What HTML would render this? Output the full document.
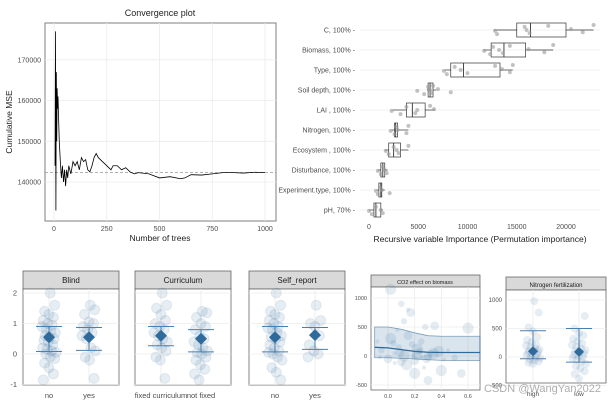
<!DOCTYPE html>
<html><head><meta charset="utf-8"><style>
body{margin:0;background:#fff;}
svg{display:block;font-family:"Liberation Sans",Arial,sans-serif;}
</style></head><body>
<svg id="s" width="611" height="402" viewBox="0 0 611 402"></svg>
<script>
// ---- Convergence data
const convTrees=[5,7,9,11,13,15,17,19,21,25,30,35,40,45,50,55,60,65,70,80,90,100,110,120,130,140,150,160,170,180,190,200,210,230,250,270,280,300,320,340,360,380,400,450,500,550,600,620,650,700,750,800,850,900,950,1000];
const convMSE=[144000,177000,133000,167000,150000,163000,158000,161000,157000,150000,145000,141000,144000,140000,143000,139000,143000,141000,144000,142000,145000,144000,145000,143000,146000,145000,145500,143000,142500,144000,146000,147000,146000,145000,144000,143000,144000,144000,143000,143500,142500,142000,142300,142000,141000,141300,140800,141000,141800,141700,142000,142300,142300,142200,142400,142300];
const convRef=142300;
const convXTicks=[0,250,500,750,1000];
const convYTicks=[140000,150000,160000,170000];
// ---- Importance data
const impVars=["C, 100%","Biomass, 100%","Type, 100%","Soil depth, 100%","LAI , 100%","Nitrogen, 100%","Ecosystem , 100%","Disturbance, 100%","Experiment.type, 100%","pH, 70%"];
const impMin=[12700,11600,7700,5900,2400,2300,1600,900,800,0];
const impQ1=[15000,12400,8300,6000,3800,2600,2000,1200,1000,500];
const impMed=[16400,13700,9600,6200,4400,2700,2500,1400,1200,700];
const impQ3=[20000,15900,13300,6500,5700,2900,3200,1600,1300,1200];
const impMax=[22800,18700,14600,6800,6700,4000,4000,1900,1600,1400];
const impPts=[[12800,13000,15800,16000,16300,18200,20500,21700,22800],[11700,12300,12600,13200,13600,14300,16200,17800,18700],[7600,7900,8700,9300,10000,12800,13500,14300,14600],[4900,5600,6000,6200,6300,6500,7000,8300],[2300,3200,3800,4900,4700,6200,6600],[2200,2600,2800,2900,3800,4000],[1700,2000,2500,2800,3000,4000],[900,1200,1400,1600,1800],[700,900,1100,1300,2100],[0,300,700,1200,1400]];
const impTicks=[0,5000,10000,15000,20000];
// ---- Facet panels data
const facetTitles=["Blind","Curriculum","Self_report"];
const facetCats=[["no","yes"],["fixed curriculum","not fixed"],["no","yes"]];
const facetMean=[[0.55,0.55],[0.6,0.5],[0.55,0.62]];
const facetLo=[[0.08,0.12],[0.27,0.07],[0.07,0.15]];
const facetHi=[[0.9,0.87],[0.9,0.8],[0.9,0.87]];
const facetPts=[
 [[2.0,1.6,1.4,1.3,1.2,1.1,1.0,0.95,0.9,0.8,0.75,0.7,0.6,0.55,0.5,0.45,0.4,0.3,0.2,0.15,0.1,0.05,0.0,-0.1,-0.15,-0.3,-0.45,-0.65,-0.85],[1.6,1.45,1.3,1.05,1.0,0.9,0.8,0.7,0.6,0.5,0.2,0.1,-0.1,-0.2,-0.8]],
 [[2.0,1.6,1.5,1.3,1.1,1.0,0.9,0.8,0.7,0.6,0.5,0.4,0.3,0.2,0.1,-0.1,-0.2,-0.8],[1.4,1.35,1.2,1.0,0.9,0.8,0.6,0.5,0.4,0.3,0.2,0.1,0.05,0.0,-0.1,-0.2,-0.35,-0.5,-0.65,-0.85]],
 [[2.0,1.6,1.4,1.3,1.2,1.1,1.0,0.9,0.85,0.8,0.7,0.6,0.55,0.5,0.4,0.3,0.2,0.1,0.05,0.0,-0.1,-0.2,-0.45,-0.6,-0.85],[1.6,1.1,1.0,0.9,0.6,0.3,0.1,0.0,-0.1]]];
const facetYTicks=[-1,0,1,2];
// CO2 panel
const co2X=[-0.1,0.0,0.1,0.2,0.3,0.4,0.5,0.6,0.7];
const co2Fit=[150,140,110,80,65,60,60,60,60];
const co2Up=[500,500,460,400,350,340,340,340,340];
const co2Lo=[-30,-30,-40,-50,-65,-75,-80,-80,-80];
const co2PtX=[-0.08,-0.05,0.0,0.02,0.05,0.08,0.1,0.12,0.15,0.18,0.2,0.22,0.25,0.28,0.3,0.02,0.07,0.12,0.17,0.22,0.27,0.32,0.35,0.4,0.45,0.5,0.55,0.6,-0.06,0.04,0.09,0.14,0.19,0.24,0.29,0.34,0.42,0.1,0.15,0.2,0.05,0.25,0.3,0.38];
const co2PtY=[250,100,-50,300,50,150,-100,0,800,200,-80,20,-30,500,-420,1150,450,600,750,120,-200,50,520,-250,100,-30,-300,480,-20,220,60,-150,10,90,-50,40,-60,900,350,-300,-120,250,-10,80];
const co2XTicks=[0.0,0.2,0.4,0.6];
const co2YTicks=[-500,0,500,1000];
// Nitrogen panel
const nCats=["high","low"];
const nMean=[100,90];
const nLo=[-30,-90];
const nHi=[460,500];
const nPts=[[980,780,520,450,350,300,260,220,200,180,150,130,110,100,90,80,60,50,30,10,0,-20,-40,-60,-80,-100,-120],[1180,720,500,420,380,320,280,240,210,180,150,120,100,80,60,40,20,0,-20,-50,-80,-120,-160,-200,-250,-300,-380]];
const nYTicks=[-500,0,500,1000];
</script>
<script>
const S=document.getElementById('s');const NS='http://www.w3.org/2000/svg';
function el(t,a,p){const e=document.createElementNS(NS,t);for(const k in a)e.setAttribute(k,a[k]);(p||S).appendChild(e);return e;}
function tx(x,y,s,o){o=o||{};const e=el('text',Object.assign({x:x,y:y,'font-size':o.fs||7,fill:o.fill||'#4d4d4d','text-anchor':o.a||'middle'},o.extra||{}),o.p);e.textContent=s;return e;}
function jit(j){return (((j*7919+13)%23)/22-0.5);}
const blue='#2f6a9a', eb='#4a80b0';
// ===== Convergence
let g=el('g',{});
const cx=v=>54+(v/1000)*211, cy=v=>182-(v-140000)/10000*40.7;
el('rect',{x:45,y:23,width:231,height:198,fill:'#fff',stroke:'#7f7f7f','stroke-width':1},g);
for(const t of convXTicks){el('line',{x1:cx(t),x2:cx(t),y1:23,y2:221,stroke:'#ebebeb','stroke-width':0.8},g);let l=tx(cx(t),231,t,{p:g});}
for(const t of convYTicks){el('line',{x1:45,x2:276,y1:cy(t),y2:cy(t),stroke:'#ebebeb','stroke-width':0.8},g);let l=tx(41,cy(t)+2.5,t,{p:g,a:'end'});}
let rl=el('line',{x1:45,x2:276,y1:cy(convRef),y2:cy(convRef),stroke:'#999','stroke-dasharray':'3,2','stroke-width':0.8},g);
let cp=el('polyline',{points:convTrees.map((t,i)=>cx(t)+','+cy(convMSE[i])).join(' '),fill:'none',stroke:'#000','stroke-width':0.8},g);
let tt=tx(160,16,'Convergence plot',{fs:9,fill:'#222',p:g});
let xl=tx(160,241,'Number of trees',{fs:8.5,fill:'#222',p:g});
let yl=tx(12,122,'Cumulative MSE',{fs:8.5,fill:'#222',p:g,extra:{transform:'rotate(-90 12 122)'}});
// ===== Importance
g=el('g',{});
const ix=v=>369+v/20000*197, iy=i=>30+i*20;
for(const t of impTicks){let l=tx(ix(t),229,t,{p:g});}
impVars.forEach((v,i)=>{
 el('line',{x1:360,x2:600,y1:iy(i),y2:iy(i),stroke:'#ebebeb','stroke-width':0.8},g);
 let l=tx(355,iy(i)+2.5,v+' -',{p:g,a:'end'});
 let b=el('g',{},g);
 el('line',{x1:ix(impMin[i]),x2:ix(impQ1[i]),y1:iy(i),y2:iy(i),stroke:'#333','stroke-width':0.7},b);
 el('line',{x1:ix(impQ3[i]),x2:ix(impMax[i]),y1:iy(i),y2:iy(i),stroke:'#333','stroke-width':0.7},b);
 el('rect',{x:ix(impQ1[i]),y:iy(i)-7,width:ix(impQ3[i])-ix(impQ1[i]),height:14,fill:'none',stroke:'#333','stroke-width':0.7},b);
 el('line',{x1:ix(impMed[i]),x2:ix(impMed[i]),y1:iy(i)-7,y2:iy(i)+7,stroke:'#333','stroke-width':0.9},b);
 impPts[i].forEach((p,j)=>{let c=el('circle',{cx:ix(p),cy:iy(i)+jit(j)*10,r:2,fill:'#9a9a9a','fill-opacity':0.6},b);});
});
let ixl=tx(480,242,'Recursive variable Importance (Permutation importance)',{fs:8.5,fill:'#222',p:g});
// ===== Facets
const fy=v=>354-v*30.5;
const fLeft=[23,135,249];
facetTitles.forEach((ti,f)=>{
 const L=fLeft[f],R=L+96;
 let pg=el('g',{});
 el('rect',{x:L,y:271,width:R-L,height:18,fill:'#d9d9d9',stroke:'#666','stroke-width':0.8},pg);
 let st=tx((L+R)/2,283,ti,{fs:8,fill:'#1a1a1a',p:pg});
 el('rect',{x:L,y:289,width:R-L,height:96,fill:'#fff',stroke:'#666','stroke-width':0.8},pg);
 const xs=[L+26,L+66];
 for(const t of facetYTicks)el('line',{x1:L,x2:R,y1:fy(t),y2:fy(t),stroke:'#ebebeb','stroke-width':0.8},pg);
 xs.forEach((x,c)=>{
  el('line',{x1:x,x2:x,y1:289,y2:385,stroke:'#ebebeb','stroke-width':0.8},pg);
  facetPts[f][c].forEach((v,j)=>{let p=el('circle',{cx:x+jit(j)*14,cy:fy(v),r:5,fill:blue,'fill-opacity':0.12,stroke:blue,'stroke-opacity':0.1},pg);});
  el('line',{x1:x,x2:x,y1:fy(facetHi[f][c]),y2:fy(facetLo[f][c]),stroke:eb,'stroke-width':1},pg);
  el('line',{x1:x-13,x2:x+13,y1:fy(facetHi[f][c]),y2:fy(facetHi[f][c]),stroke:eb,'stroke-width':1},pg);
  el('line',{x1:x-13,x2:x+13,y1:fy(facetLo[f][c]),y2:fy(facetLo[f][c]),stroke:eb,'stroke-width':1},pg);
  const m=fy(facetMean[f][c]);let d=el('polygon',{points:`${x},${m-6} ${x+6},${m} ${x},${m+6} ${x-6},${m}`,fill:blue},pg);
  let lb=tx(x,398,facetCats[f][c],{fs:7.5,fill:'#4d4d4d',p:pg});
 });
 if(f===0)for(const t of facetYTicks){let l=tx(L-6,fy(t)+2.5,t,{fs:7.5,a:'end',p:pg});}
});
// ===== CO2 panel
g=el('g',{});
const ox=v=>388+v/0.6*80, oy=v=>356-v/500*29;
el('rect',{x:371,y:275,width:109,height:12,fill:'#d9d9d9',stroke:'#666','stroke-width':0.8},g);
let ct=tx(425,284,'CO2 effect on biomass',{fs:5.5,fill:'#1a1a1a',p:g});
el('rect',{x:371,y:287,width:109,height:103,fill:'#fff',stroke:'#666','stroke-width':0.8},g);
for(const t of co2YTicks){el('line',{x1:371,x2:480,y1:oy(t),y2:oy(t),stroke:'#ebebeb','stroke-width':0.8},g);let l=tx(367,oy(t)+2,t,{fs:5.5,a:'end',p:g});}
for(const t of co2XTicks){el('line',{x1:ox(t),x2:ox(t),y1:287,y2:390,stroke:'#ebebeb','stroke-width':0.8},g);let l=tx(ox(t),398,t.toFixed(1),{fs:5.5,p:g});}
co2PtX.forEach((x,i)=>{const px=ox(x),py=oy(co2PtY[i]);if(px<372||px>479||py<288||py>389)return;let c=el('circle',{cx:px,cy:py,r:2+(i%4)*1.2,fill:blue,'fill-opacity':0.13},g);});
const band=co2X.map((x,i)=>Math.max(371,Math.min(480,ox(x)))+','+oy(co2Up[i])).join(' ')+' '+co2X.map((x,i)=>Math.max(371,Math.min(480,ox(x)))+','+oy(co2Lo[i])).reverse().join(' ');
let bd=el('polygon',{points:band,fill:blue,'fill-opacity':0.18,stroke:blue,'stroke-opacity':0.6,'stroke-width':0.8},g);
let fl=el('polyline',{points:co2X.map((x,i)=>Math.max(371,Math.min(480,ox(x)))+','+oy(co2Fit[i])).join(' '),fill:'none',stroke:blue,'stroke-width':1.3},g);
// ===== Nitrogen panel
g=el('g',{});
const ny=v=>357-v/500*28.5;
el('rect',{x:506,y:277,width:100,height:13,fill:'#d9d9d9',stroke:'#666','stroke-width':0.8},g);
let nt=tx(556,287,'Nitrogen fertilization',{fs:6,fill:'#1a1a1a',p:g});
el('rect',{x:506,y:290,width:100,height:93,fill:'#fff',stroke:'#666','stroke-width':0.8},g);
for(const t of nYTicks){el('line',{x1:506,x2:606,y1:ny(t),y2:ny(t),stroke:'#ebebeb','stroke-width':0.8},g);let l=tx(502,ny(t)+2,t,{fs:6,a:'end',p:g});}
[533,579].forEach((x,c)=>{
 el('line',{x1:x,x2:x,y1:290,y2:383,stroke:'#ebebeb','stroke-width':0.8},g);
 nPts[c].forEach((v,j)=>{const py=ny(v);if(py<291||py>382)return;let p=el('circle',{cx:x+jit(j)*14,cy:py,r:4,fill:blue,'fill-opacity':0.12},g);});
 el('line',{x1:x,x2:x,y1:ny(nHi[c]),y2:ny(nLo[c]),stroke:eb,'stroke-width':1},g);
 el('line',{x1:x-13,x2:x+13,y1:ny(nHi[c]),y2:ny(nHi[c]),stroke:eb,'stroke-width':1},g);
 el('line',{x1:x-13,x2:x+13,y1:ny(nLo[c]),y2:ny(nLo[c]),stroke:eb,'stroke-width':1},g);
 const m=ny(nMean[c]);let d=el('polygon',{points:`${x},${m-5} ${x+5},${m} ${x},${m+5} ${x-5},${m}`,fill:blue},g);
 let lb=tx(x,396,nCats[c],{fs:6.5,p:g});
});
let wm=tx(484,392,'CSDN @WangYan2022',{fs:11,fill:'#999',a:'start',extra:{'fill-opacity':0.8}});
</script>
</body></html>
